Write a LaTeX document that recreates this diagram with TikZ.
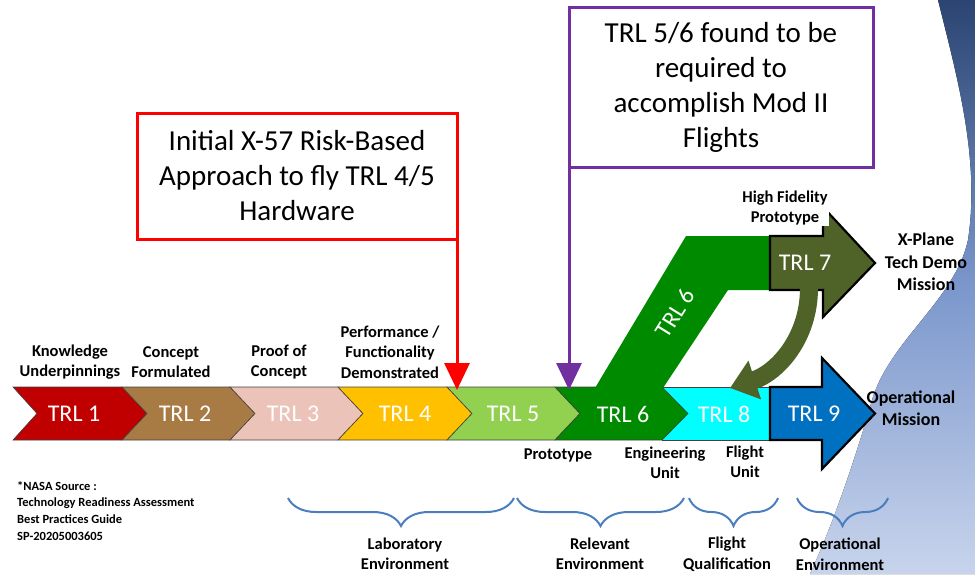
\documentclass[tikz,border=0pt]{standalone}
\usepackage{fontspec}
\setmainfont{Carlito}
\usepackage{tikz}
\usetikzlibrary{arrows.meta,positioning,decorations.pathreplacing}
\definecolor{TrlRed}{HTML}{C00000}
\definecolor{TrlBrown}{HTML}{A87A44}
\definecolor{TrlPink}{HTML}{EBC3B8}
\definecolor{TrlAmber}{HTML}{FFC000}
\definecolor{TrlLime}{HTML}{92D050}
\definecolor{TrlGreen}{HTML}{008A00}
\definecolor{TrlOlive}{HTML}{4F6228}
\definecolor{TrlCyan}{HTML}{00FFFF}
\definecolor{TrlBlue}{HTML}{0070C0}
\definecolor{NoteRed}{HTML}{FF0000}
\definecolor{NotePurple}{HTML}{7030A0}
\definecolor{BraceBlue}{HTML}{4A7EBF}
\definecolor{BgDark}{HTML}{2B4472}
\definecolor{BgMid}{HTML}{7B97CC}
\definecolor{BgLight}{HTML}{C8D4EC}

\begin{document}
\begin{tikzpicture}[x=1pt, y=-1pt,
  trlchev/.style={draw=black!75, line width=0.6pt},
  trlnum/.style={text=white, font=\fontsize{24}{28}\selectfont, inner sep=0pt},
  steplabel/.style={font=\bfseries\fontsize{16.5}{20.5}\selectfont, align=center, inner sep=0pt},
  goallabel/.style={font=\bfseries\fontsize{18}{22.5}\selectfont, align=center, inner sep=0pt},
  notebox/.style={line width=3pt, fill=white, outer sep=0pt, align=center,
               font=\fontsize{29}{35}\selectfont},
  drop/.style={line width=3pt, -{Triangle[length=27pt, width=25pt]}},
  blockarrow/.style={draw=black, line width=2.2pt, line join=miter},
  envbrace/.style={decorate, decoration={brace, mirror, amplitude=28pt},
               draw=BraceBlue, line width=2pt}
]
\useasboundingbox (0,0) rectangle (975,574);

% slide background
\fill[top color=BgDark, bottom color=BgLight, middle color=BgMid]
  (938,0) .. controls (958,80) and (980,160) .. (968,240)
  .. controls (955,300) and (890,340) .. (872,400)
  .. controls (858,450) and (835,520) .. (810,574) -- (975,574) -- (975,0) -- cycle;

\coordinate (chevtop) at (0,390);

% TRL chevrons
\path[trlchev, fill=TrlCyan] (662,387) rectangle (775,440);
\path[trlchev, fill=TrlRed] (13,387) -- (122,387) -- (147,413.5) -- (122,440) -- (13,440) -- (37,413.5) -- cycle;
\path[trlchev, fill=TrlBrown] (122,387) -- (230,387) -- (255,413.5) -- (230,440) -- (122,440) -- (147,413.5) -- cycle;
\path[trlchev, fill=TrlPink] (230,387) -- (338,387) -- (363,413.5) -- (338,440) -- (230,440) -- (255,413.5) -- cycle;
\path[trlchev, fill=TrlAmber] (338,387) -- (447,387) -- (472,413.5) -- (447,440) -- (338,440) -- (363,413.5) -- cycle;
\path[trlchev, fill=TrlLime] (447,387) -- (555,387) -- (580,413.5) -- (555,440) -- (447,440) -- (472,413.5) -- cycle;
\path[trlchev, fill=TrlGreen] (555,387) -- (662,387) -- (688,413.5) -- (662,440) -- (555,440) -- (580,413.5) -- cycle;

% raised TRL 6 leg and TRL 7
\fill[TrlGreen] (595,388) -- (686,236) -- (772,236) -- (772,290) -- (728,290) -- (663,388) -- cycle;
\path[blockarrow, fill=TrlOlive] (770,236) -- (823,236) -- (823,207) -- (875,263) -- (823,317) -- (823,290) -- (770,290) -- cycle;
\coordinate (backstart) at (809,288);
\coordinate (backend) at (730,388);
\draw[TrlOlive, line width=18pt, -{Triangle[length=26pt, width=39pt]}]
  (backstart) to[out=-90, in=18] (backend);

% TRL 9
\path[blockarrow, fill=TrlBlue] (770,387) -- (822,387) -- (822,358) -- (875,413.5) -- (822,469) -- (822,440) -- (770,440) -- cycle;

\node[trlnum] (trl1) at (74,414) {TRL 1};
\node[trlnum] (trl2) at (185,414) {TRL 2};
\node[trlnum] (trl3) at (293,414) {TRL 3};
\node[trlnum] (trl4) at (405,414) {TRL 4};
\node[trlnum] (trl5) at (513,414) {TRL 5};
\node[trlnum] (trl6) at (623,414) {TRL 6};
\node[trlnum] (trl8) at (724,414) {TRL 8};
\node[trlnum] (trl9) at (814,414) {TRL 9};
\node[trlnum] (trl7) at (805,263) {TRL 7};
\node[trlnum, rotate=58] (trl6up) at (675,313) {TRL 6};

% call-out boxes
\node[notebox, draw=NoteRed, minimum width=320pt, minimum height=126pt] (riskbox) at (297,176)
  {Initial X-57 Risk-Based\\Approach to fly TRL 4/5\\Hardware};
\node[notebox, draw=NotePurple, minimum width=304pt, minimum height=160pt] (modbox) at (721,87)
  {TRL 5/6 found to be\\required to\\accomplish Mod II\\Flights};
\draw[drop, NoteRed] (riskbox.south east) -- (riskbox.south east |- chevtop);
\draw[drop, NotePurple] (modbox.south west) -- (modbox.south west |- chevtop);

% step labels
\node[steplabel] (knowlbl) at (70,362) {Knowledge\\Underpinnings};
\node[steplabel] (conclbl) at (171,362) {Concept\\Formulated};
\node[steplabel] (prooflbl) at (279,362) {Proof of\\Concept};
\node[steplabel] (perflbl) at (390,352) {Performance /\\Functionality\\Demonstrated};
\node[steplabel] (protolbl) at (558,455) {Prototype};
\node[steplabel] (englbl) at (665,463) {Engineering\\Unit};
\node[steplabel] (flightlbl) at (745,462) {Flight\\Unit};
\node[steplabel, fill=white, inner sep=1pt] (fidlbl) at (785,208) {High Fidelity\\Prototype};
\node[goallabel] (xplanelbl) at (926,262) {X-Plane\\Tech Demo\\Mission};
\node[goallabel] (opmislbl) at (911,408) {Operational\\Mission};

% source note
\node[anchor=north west, align=left, inner sep=0pt,
      font=\bfseries\fontsize{12.5}{16.7}\selectfont] (srcnote) at (17,481)
  {*NASA Source :\\Technology Readiness Assessment\\Best Practices Guide\\SP-20205003605};

% environments
\draw[envbrace] (288,498) -- (514,498);
\draw[envbrace] (517,498) -- (684,498);
\draw[envbrace] (689,498) -- (778,498);
\draw[envbrace] (797,498) -- (888,498);
\node[steplabel] (labenv) at (405,554) {Laboratory\\Environment};
\node[steplabel] (relenv) at (600,554) {Relevant\\Environment};
\node[steplabel] (qualenv) at (727,554) {Flight\\Qualification};
\node[steplabel] (openv) at (840,554) {Operational\\Environment};
\end{tikzpicture}
\end{document}
